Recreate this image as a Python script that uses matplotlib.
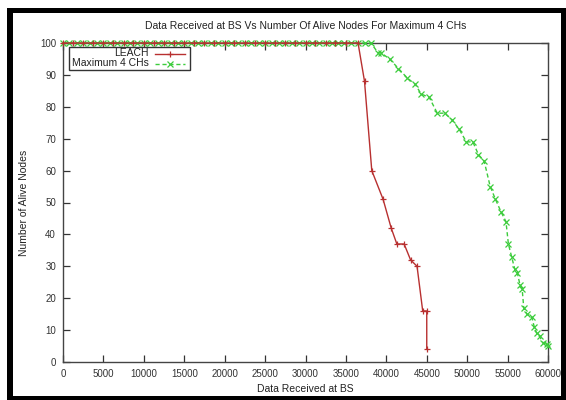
import matplotlib
matplotlib.use("Agg")
import matplotlib.pyplot as plt
from matplotlib.patches import Rectangle
from matplotlib.lines import Line2D

plt.rcParams['font.family'] = ['Liberation Sans', 'DejaVu Sans']

title = "Data Received at BS Vs Number Of Alive Nodes For Maximum 4 CHs"
xlabel = "Data Received at BS"
ylabel = "Number of Alive Nodes"

leach_x = [0, 1200, 2500, 3700, 5000, 6200, 7500, 8700, 10000, 11200, 12500, 13700,
           15000, 16200, 17500, 18700, 20000, 21200, 22500, 23700, 25000, 26200,
           27500, 28700, 30000, 31200, 32500, 33700, 35000, 36500,
           37300, 38200, 39600, 40600, 41300, 42200, 43000, 43800, 44500, 45000, 45000]
leach_y = [100] * 30 + [88, 60, 51, 42, 37, 37, 32, 30, 16, 16, 4]

max4_x = [0, 800, 1700, 2500, 3300, 4200, 5000, 5800, 6700, 7500, 8300, 9200, 10000,
          10800, 11700, 12500, 13300, 14200, 15000, 15800, 16700, 17500, 18300, 19200,
          20000, 20800, 21700, 22500, 23300, 24200, 25000, 25800, 26700, 27500, 28300,
          29200, 30000, 30800, 31700, 32500, 33300, 34000, 34800, 35600, 36500, 37300,
          38100,
          38950, 39300, 40400, 41500, 42600, 43600, 44300, 45300, 46300, 47200, 48100,
          49000, 49900, 50700, 51400, 52100, 52850, 53500, 54200, 54800, 55100, 55500,
          55900, 56200, 56550, 56800, 57000, 57400, 58000, 58300, 58600, 58950, 59400,
          59850, 60000]
max4_y = [100] * 47 + [97, 97, 95, 92, 89, 87, 84, 83, 78, 78, 76, 73, 69, 69, 65, 63,
                       55, 51, 47, 44, 37, 33, 29, 28, 24, 23, 17, 15, 14, 11, 9, 8, 6,
                       5.5, 5]

series_labels = ["LEACH", "Maximum 4 CHs"]
x_ticks = list(range(0, 60001, 5000))
y_ticks = list(range(0, 101, 10))

red = "#b83030"
green = "#3ccc3c"

fig = plt.figure(figsize=(5.66, 4.0), dpi=100)
ax = fig.add_axes([63 / 566, 1 - 362 / 400, (548 - 63) / 566, (362 - 43) / 400])

ax.plot(max4_x, max4_y, color=green, lw=1.0, ls=(0, (3, 2)), marker='x', ms=4.5,
        mew=0.9, clip_on=False, zorder=3)
ax.plot(leach_x, leach_y, color=red, lw=1.0, marker='+', ms=5, mew=0.9,
        clip_on=False, zorder=3)

ax.set_xlim(0, 60000)
ax.set_ylim(0, 100)
ax.set_xticks(x_ticks)
ax.set_yticks(y_ticks)
ax.set_xticklabels([str(v) for v in x_ticks])
ax.set_yticklabels([str(v) for v in y_ticks])
ax.tick_params(direction='in', length=5, width=0.9, labelsize=7, colors='#333333',
               top=True, right=True, pad=5)
for s in ax.spines.values():
    s.set_color('#444444')
    s.set_linewidth(1.0)

ax.set_title(title, fontsize=7.5, pad=10, color='#222222')
ax.set_xlabel(xlabel, fontsize=7.5, labelpad=4, color='#222222')
ax.set_ylabel(ylabel, fontsize=7.5, labelpad=8, color='#222222')

# legend (gnuplot style: text right-aligned, sample to the right)
def fx(px):
    return (px - 63) / (548 - 63)

def fy(py):
    return (362 - py) / (362 - 43)

ax.add_patch(Rectangle((fx(69), fy(69.5)), fx(190) - fx(69), fy(47) - fy(69.5),
                       transform=ax.transAxes, fill=True, facecolor='white',
                       edgecolor='#333333', lw=1.0, zorder=4, clip_on=False))
ax.text(fx(149), fy(53.5), series_labels[0], transform=ax.transAxes, ha='right',
        va='center', fontsize=7.5, zorder=5, color='#222222')
ax.text(fx(149), fy(63.5), series_labels[1], transform=ax.transAxes, ha='right',
        va='center', fontsize=7.5, zorder=5, color='#222222')
ax.add_line(Line2D([fx(155), fx(185)], [fy(53.5), fy(53.5)], transform=ax.transAxes,
                   color=red, lw=1.0, zorder=5))
ax.add_line(Line2D([fx(170)], [fy(53.5)], transform=ax.transAxes, color=red,
                   marker='+', ms=5, mew=0.9, zorder=5))
ax.add_line(Line2D([fx(155), fx(185)], [fy(63.5), fy(63.5)], transform=ax.transAxes,
                   color=green, lw=1.0, ls=(0, (3, 2)), zorder=5))
ax.add_line(Line2D([fx(170)], [fy(63.5)], transform=ax.transAxes, color=green,
                   marker='x', ms=4.5, mew=0.9, zorder=5))

# outer black frame
def figx(px):
    return px / 566

def figy(py):
    return 1 - py / 400

for (x0, y0, x1, y1) in [(7, 8, 13, 400), (7, 8, 566, 13), (561, 8, 566, 400), (7, 396, 566, 400)]:
    fig.add_artist(Rectangle((figx(x0), figy(y1)), figx(x1) - figx(x0), figy(y0) - figy(y1),
                             transform=fig.transFigure, facecolor='black',
                             edgecolor='none'))

fig.savefig("out.png", dpi=100)
